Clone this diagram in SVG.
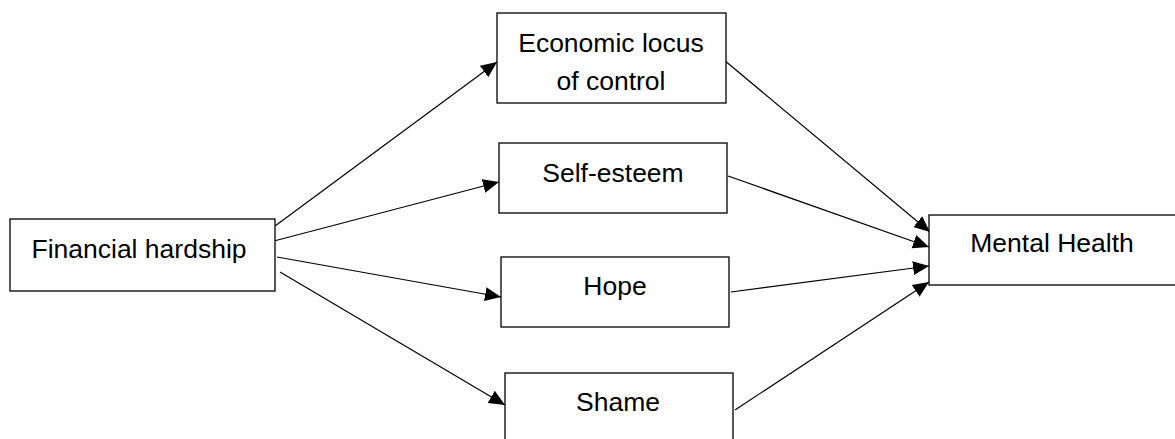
<svg xmlns="http://www.w3.org/2000/svg" width="1175" height="439" viewBox="0 0 1175 439">
<style>
.box{fill:#fff;stroke:#000;stroke-width:1.3}
.t{font-family:"Liberation Sans",Arial,sans-serif;font-size:26.5px;fill:#000;text-anchor:middle}
.c{stroke:#000;stroke-width:1.2;fill:none;marker-end:url(#ah)}
</style>
<defs>
<marker id="ah" markerUnits="userSpaceOnUse" markerWidth="18" markerHeight="16" refX="16" refY="8" orient="auto">
<path d="M0,1 L16,8 L0,15 Z" fill="#000"/>
</marker>
</defs>
<rect width="1175" height="439" fill="#fff"/>
<g id="connectors">
<line class="c" x1="275" y1="226" x2="497" y2="62"/>
<line class="c" x1="274" y1="241" x2="499" y2="182"/>
<line class="c" x1="277" y1="257" x2="501" y2="297"/>
<line class="c" x1="280" y1="272" x2="505" y2="405"/>
<line class="c" x1="724" y1="60" x2="930" y2="232"/>
<line class="c" x1="728" y1="176" x2="929" y2="247"/>
<line class="c" x1="731" y1="292" x2="929" y2="266"/>
<line class="c" x1="735" y1="410" x2="929" y2="282"/>
</g>
<g id="financial-hardship">
<rect class="box" x="10" y="219" width="265" height="72"/>
<text class="t" x="139" y="258">Financial hardship</text>
</g>
<g id="economic-locus">
<rect class="box" x="497" y="13" width="229" height="90"/>
<text class="t" x="611" y="52">Economic locus</text>
<text class="t" x="611" y="90">of control</text>
</g>
<g id="self-esteem">
<rect class="box" x="499" y="143" width="228" height="70"/>
<text class="t" x="613" y="182">Self-esteem</text>
</g>
<g id="hope">
<rect class="box" x="501" y="257" width="228" height="70"/>
<text class="t" x="615" y="295">Hope</text>
</g>
<g id="shame">
<rect class="box" x="505" y="373" width="228" height="80"/>
<text class="t" x="618" y="411">Shame</text>
</g>
<g id="mental-health">
<rect class="box" x="929" y="215" width="260" height="70"/>
<text class="t" x="1052" y="252">Mental Health</text>
</g>
</svg>
